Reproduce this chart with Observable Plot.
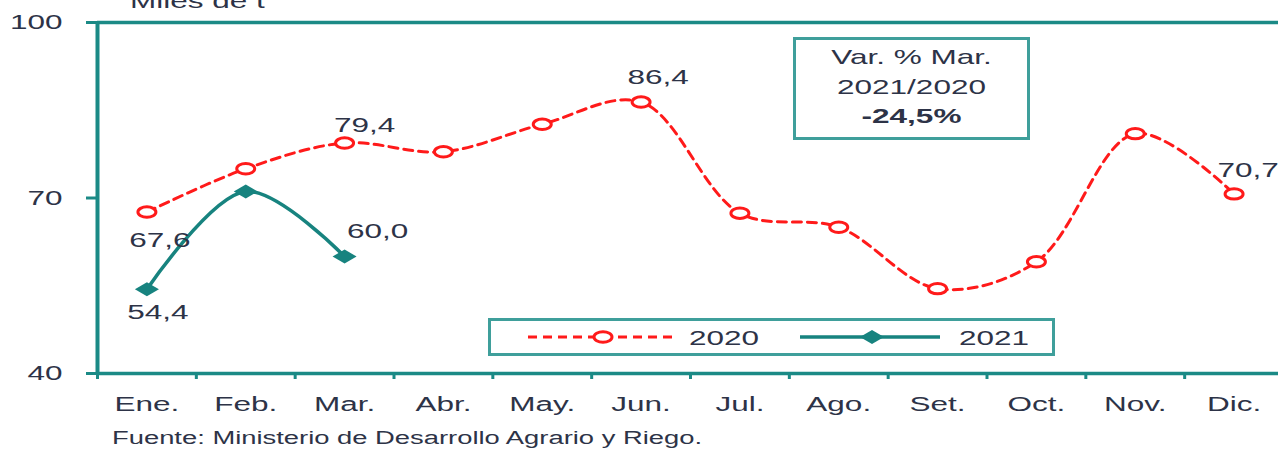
<!DOCTYPE html>
<html>
<head>
<meta charset="utf-8">
<script src="https://cdn.jsdelivr.net/npm/d3@7"></script>
<script src="https://cdn.jsdelivr.net/npm/@observablehq/plot@0.6"></script>
<style>
  html, body { margin: 0; padding: 0; background: #fff; overflow: hidden; }
  #wrap { position: relative; width: 1278px; height: 450px; font-family: "Liberation Sans", Arial, sans-serif; color: #2d3347; }
  .sx { display: block; transform: scaleX(1.5); transform-origin: center; white-space: nowrap; }
  #unit { position: absolute; left: 130px; top: -10px; font-size: 21px; line-height: 21px; transform: scaleX(1.5); transform-origin: left; white-space: nowrap; }
  #note { position: absolute; left: 793px; top: 37px; width: 231px; height: 95px; border: 3px solid #3f9f9b; text-align: center; font-size: 21px; line-height: 29.5px; padding-top: 2px; box-sizing: content-box; }
  #caption { position: absolute; left: 112px; top: 427px; font-size: 18px; line-height: 22px; transform: scaleX(1.52); transform-origin: left; white-space: nowrap; }
  #legend { position: absolute; left: 488px; top: 318px; }
</style>
</head>
<body>
<div id="wrap">
  <div id="chart"></div>
  <div id="unit">Miles de t</div>
  <div id="note"></div>
  <div id="legend"></div>
  <div id="caption"></div>
</div>
<script>
// ---- data ----
const months = ["Ene.", "Feb.", "Mar.", "Abr.", "May.", "Jun.", "Jul.", "Ago.", "Set.", "Oct.", "Nov.", "Dic."];
const values2020 = [67.6, 75.0, 79.4, 77.9, 82.6, 86.4, 67.4, 65.0, 54.5, 59.1, 81.0, 70.7];
const values2021 = [54.4, 71.1, 60.0];
const yTicks = [40, 70, 100];
const seriesNames = ["2020", "2021"];
const noteLines = ["Var. % Mar.", "2021/2020", "-24,5%"];
const captionText = "Fuente: Ministerio de Desarrollo Agrario y Riego.";
const unitText = "Miles de t";

// ---- styles ----
const RED = "#ff1a1a";
const TEAL = "#17837f";
const AXIS = "#1b8a86";
const TXT = "#2d3347";
const SX = 1.5;

const d2020 = values2020.map((v, i) => ({i, v, m: months[i]}));
const d2021 = values2021.map((v, i) => ({i, v, m: months[i]}));
const fmt = v => d3.format(".1f")(v).replace(".", ",");

// custom stretched symbols (the reference is horizontally stretched)
const K = 0.5523;
const ellipse = {draw(ctx) {
  const rx = 9, ry = 5.2;
  ctx.moveTo(rx, 0);
  ctx.bezierCurveTo(rx, K*ry, K*rx, ry, 0, ry);
  ctx.bezierCurveTo(-K*rx, ry, -rx, K*ry, -rx, 0);
  ctx.bezierCurveTo(-rx, -K*ry, -K*rx, -ry, 0, -ry);
  ctx.bezierCurveTo(K*rx, -ry, rx, -K*ry, rx, 0);
  ctx.closePath();
}};
const diamond = {draw(ctx) {
  const hx = 12, hy = 7;
  ctx.moveTo(hx, 0); ctx.lineTo(0, hy); ctx.lineTo(-hx, 0); ctx.lineTo(0, -hy); ctx.closePath();
}};

const X = d => d.i + 0.5;
const label = (arr, idx, dx, dy) => Plot.text([arr[idx]], {x: X, y: "v", text: d => fmt(d.v), dx, dy, fill: TXT, fontSize: 21, textAnchor: "middle", lineAnchor: "middle"});

const chart = Plot.plot({
  width: 1278,
  height: 425,
  marginLeft: 97,
  marginRight: 0,
  marginTop: 22,
  marginBottom: 52,
  style: {fontFamily: "'Liberation Sans', Arial, sans-serif", fontSize: "21px", color: TXT, background: "transparent", overflow: "visible"},
  x: {domain: [0, 12], range: [97, 1283]},
  y: {domain: [40, 100], range: [373, 22]},
  marks: [
    Plot.axisY({ticks: yTicks, tickSize: 11, tickPadding: 24, stroke: AXIS, strokeWidth: 3, fill: TXT, fontSize: 21, label: null}),
    Plot.axisX({ticks: d3.range(13), tickSize: 6, tickFormat: () => "", stroke: AXIS, strokeWidth: 3, label: null}),
    Plot.text(months, {x: (d, i) => i + 0.5, frameAnchor: "bottom", dy: 31, text: d => d, fill: TXT, fontSize: 21, textAnchor: "middle", lineAnchor: "middle"}),
    Plot.ruleY([100], {stroke: AXIS, strokeWidth: 3.5}),
    Plot.ruleY([40], {stroke: AXIS, strokeWidth: 3.5}),
    Plot.ruleX([0], {y1: 40, y2: 100, stroke: AXIS, strokeWidth: 4}),
    Plot.line(d2020, {x: X, y: "v", stroke: RED, strokeWidth: 3, strokeDasharray: "9,6", curve: "catmull-rom"}),
    Plot.dot(d2020, {x: X, y: "v", symbol: ellipse, r: 6, stroke: RED, strokeWidth: 3, fill: "white"}),
    Plot.line(d2021, {x: X, y: "v", stroke: TEAL, strokeWidth: 3.5, curve: "catmull-rom"}),
    Plot.dot(d2021, {x: X, y: "v", symbol: diamond, r: 7, fill: TEAL, stroke: "none"}),
    label(d2020, 0, 13, 28),
    label(d2021, 0, 11, 23),
    label(d2020, 2, 20, -18),
    label(d2021, 2, 33, -25),
    label(d2020, 5, 17, -25),
    label(d2020, 11, 14, -24)
  ]
});

// stretch every text horizontally around its anchor point
chart.querySelectorAll("text").forEach(t => {
  let tr = t.getAttribute("transform");
  if (!tr) {
    const x = +t.getAttribute("x") || 0, y = +t.getAttribute("y") || 0;
    t.removeAttribute("x"); t.removeAttribute("y");
    tr = `translate(${x},${y})`;
  }
  t.setAttribute("transform", `${tr} scale(${SX},1)`);
});
document.getElementById("chart").appendChild(chart);

// annotation box
const note = document.getElementById("note");
noteLines.forEach((s, k) => {
  const el = document.createElement("span");
  el.className = "sx";
  el.textContent = s;
  if (k === 2) el.style.fontWeight = "bold";
  note.appendChild(el);
});

// legend
const lg = d3.select("#legend").append("svg").attr("width", 567).attr("height", 38).style("overflow", "visible")
  .style("font-family", "'Liberation Sans', Arial, sans-serif");
lg.append("rect").attr("x", 1.5).attr("y", 1.5).attr("width", 564).attr("height", 35).attr("fill", "white").attr("stroke", "#3f9f9b").attr("stroke-width", 3);
const sw = [
  {x1: 40, x2: 184, cx: 115, color: RED, dash: "9,6", sym: ellipse, fill: "white", tx: 236},
  {x1: 312, x2: 452, cx: 384, color: TEAL, dash: null, sym: diamond, fill: TEAL, tx: 506}
];
sw.forEach((s, k) => {
  lg.append("line").attr("x1", s.x1).attr("x2", s.x2).attr("y1", 19).attr("y2", 19)
    .attr("stroke", s.color).attr("stroke-width", k ? 3.5 : 3).attr("stroke-dasharray", s.dash);
  lg.append("path").attr("d", d3.symbol(s.sym)()).attr("transform", `translate(${s.cx},19)`)
    .attr("fill", s.fill).attr("stroke", k ? "none" : s.color).attr("stroke-width", 3);
  lg.append("text").attr("transform", `translate(${s.tx},19) scale(${SX},1)`).attr("text-anchor", "middle")
    .attr("dy", "0.36em").attr("font-size", 21).attr("fill", TXT).text(seriesNames[k]);
});

document.getElementById("caption").textContent = captionText;
document.getElementById("unit").textContent = unitText;
</script>
</body>
</html>
